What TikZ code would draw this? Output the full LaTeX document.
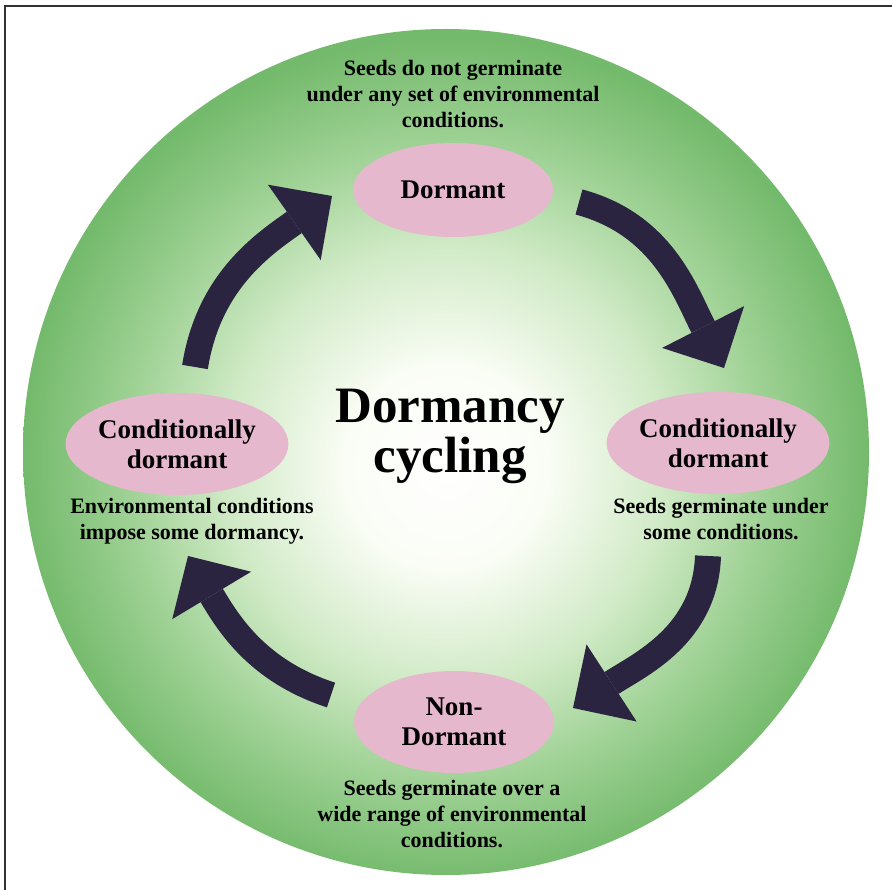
\documentclass[tikz,border=0pt]{standalone}
\usepackage{fontspec}
\setmainfont{Liberation Serif}
\usetikzlibrary{arrows.meta,shapes.geometric}
\definecolor{gedge}{RGB}{116,186,108}
\definecolor{gout}{RGB}{158,209,148}
\definecolor{gmid}{RGB}{208,234,198}
\definecolor{gin}{RGB}{250,253,245}
\definecolor{pinkc}{RGB}{230,184,206}
\definecolor{navy}{RGB}{43,36,64}
\definecolor{framec}{RGB}{50,50,50}
\pgfdeclareradialshading{bgshade}{\pgfpoint{0bp}{-1bp}}{color(0bp)=(white); color(6bp)=(gin); color(13bp)=(gmid); color(19bp)=(gout); color(25bp)=(gedge); color(50bp)=(gedge)}
\tikzset{
  ell/.style={ellipse, fill=pinkc, minimum width=200pt, minimum height=102pt, inner sep=0pt, align=center, font=\bfseries\fontsize{27}{30}\selectfont},
  desc/.style={align=center, inner sep=0pt, anchor=base, font=\bfseries\fontsize{22}{26}\selectfont},
  titletext/.style={align=center, inner sep=0pt, anchor=base, font=\bfseries\fontsize{51}{50}\selectfont},
  bigarr/.style={draw=navy, line width=26pt, -{Triangle[width=92pt,length=46pt,line width=0pt]}},
  framel/.style={draw=framec, line width=1.5pt}
}
\begin{document}
\begin{tikzpicture}[x=1pt,y=-1pt]
\useasboundingbox (0,0) rectangle (892,890);
\fill[white] (0,0) rectangle (892,890);
\draw[framel] (892,6) -- (5,6) -- (5,890);
\shade[shading=bgshade] (446,452) circle[radius=423];

\node[ell, minimum height=94pt] (dorm) at (453,190) {Dormant};
\node[ell] (cdr) at (718,443) {Conditionally\\dormant};
\node[ell] (cdl) at (177,444) {Conditionally\\dormant};
\node[ell] (nond) at (454,722) {Non-\\Dormant};

\node[desc] (tdesc) at (453,128) {Seeds do not germinate\\under any set of environmental\\conditions.};
\node[desc] (ldesc) at (192,539) {Environmental conditions\\impose some dormancy.};
\node[desc] (rdesc) at (721,539) {Seeds germinate under\\some conditions.};
\node[desc] (bdesc) at (452,847) {Seeds germinate over a\\wide range of environmental\\conditions.};

\node[titletext] (title) at (450,472) {Dormancy\\cycling};

\coordinate (a1s) at (195,367); \coordinate (a1e) at (332,196);
\coordinate (a2s) at (579,202); \coordinate (a2e) at (724,368);
\coordinate (a3s) at (708,556); \coordinate (a3e) at (573,708);
\coordinate (a4s) at (331,695); \coordinate (a4e) at (188,556);
\draw[bigarr] (a1s) to[out=81,in=-145] (a1e);
\draw[bigarr] (a2s) to[out=-15,in=117] (a2e);
\draw[bigarr] (a3s) to[out=-92,in=33] (a3e);
\draw[bigarr] (a4s) to[out=162,in=-59] (a4e);
\end{tikzpicture}
\end{document}
